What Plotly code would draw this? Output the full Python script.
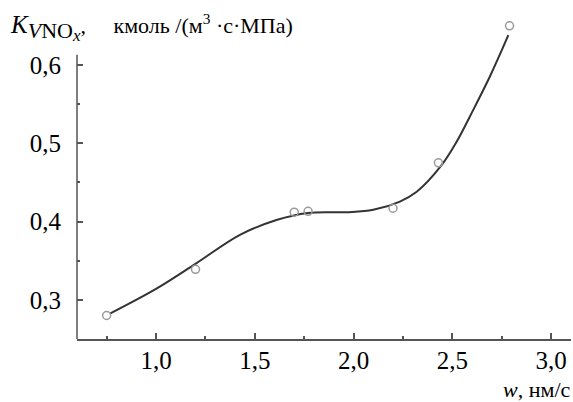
import plotly.graph_objects as go

# measured points
w_pts = [0.75, 1.2, 1.7, 1.77, 2.2, 2.43, 2.79]
k_pts = [0.28, 0.339, 0.412, 0.413, 0.417, 0.475, 0.650]

# smooth fitted curve
curve_w = [0.767, 1.0, 1.2, 1.425, 1.61, 1.77, 1.966, 2.1, 2.235, 2.32, 2.44, 2.52, 2.607, 2.69, 2.758, 2.784]
curve_k = [0.2825, 0.314, 0.346, 0.383, 0.402, 0.411, 0.412, 0.415, 0.4255, 0.438, 0.470, 0.501, 0.543, 0.585, 0.623, 0.638]

x_ticks = [1.0, 1.5, 2.0, 2.5, 3.0]
x_minor = [0.75, 1.25, 1.75, 2.25, 2.75]
y_ticks = [0.3, 0.4, 0.5, 0.6]
y_minor = [0.35, 0.45, 0.55]

FONT = "Liberation Serif"
AX = "#555555"

W, H = 573, 402
L, R, T, B = 77, 2, 18, 63
pw = W - L - R
ph = H - T - B
xr = [0.6, 0.6 + pw / 197.5]
yr = [0.25, 0.25 + ph / 783.0]

fig = go.Figure()
fig.add_trace(go.Scatter(x=curve_w, y=curve_k, mode="lines", line=dict(color="#333333", width=2, shape="spline"),
                         hoverinfo="skip", showlegend=False))
fig.add_trace(go.Scatter(x=w_pts, y=k_pts, mode="markers",
                         marker=dict(symbol="circle-open", size=8, color="#9a9a9a", line=dict(width=1.5, color="#9a9a9a")),
                         showlegend=False))

TF = dict(family=FONT, size=25, color="black")
fig.update_layout(
    width=W, height=H, margin=dict(l=L, r=R, t=T, b=B),
    paper_bgcolor="white", plot_bgcolor="white",
    separators=", ",
    font=dict(family=FONT, size=24, color="black"),
    xaxis=dict(range=xr, showgrid=False, zeroline=False, showline=True, linecolor=AX, linewidth=1.5,
               tickmode="array", tickvals=x_ticks, tickformat=".1f", ticks="inside", ticklen=6, tickwidth=1.5,
               tickcolor=AX, ticklabelstandoff=-2, tickfont=TF,
               minor=dict(tickmode="array", tickvals=x_minor, ticks="inside", ticklen=3, tickwidth=1.5, tickcolor=AX)),
    yaxis=dict(range=yr, showgrid=False, zeroline=False, showline=False,
               tickmode="array", tickvals=y_ticks, tickformat=".1f", ticks="inside", ticklen=6, tickwidth=1.5,
               tickcolor=AX, ticklabelstandoff=15, tickfont=TF,
               minor=dict(tickmode="array", tickvals=y_minor, ticks="inside", ticklen=3, tickwidth=1.5, tickcolor=AX)),
)

# y axis line ends at ~0.613
fig.add_shape(type="line", xref="paper", yref="y", x0=0, x1=0, y0=yr[0], y1=0.613,
              line=dict(color=AX, width=1.5))

def px_x(p):
    return (p - L) / pw

def px_y(p):
    return (H - B - p) / ph

title = ("<span style='font-size:25px'><i>K</i></span>"
         "<sub><span style='font-size:22px'><i>V</i>NO</span><sub><span style='font-size:17px'><i>x</i></span></sub></sub>"
         ",&nbsp;&nbsp;&nbsp;&nbsp;&nbsp;кмоль /(м<sup>3</sup> ·с·МПа)")
fig.add_annotation(xref="paper", yref="paper", x=px_x(8), y=px_y(8), xanchor="left", yanchor="top",
                   text=title, showarrow=False, font=dict(family=FONT, size=22, color="black"))
fig.add_annotation(xref="paper", yref="paper", x=px_x(572), y=px_y(389), xanchor="right", yanchor="middle",
                   text="<i>w</i>, нм/с", showarrow=False, font=dict(family=FONT, size=22, color="black"))

fig.write_html("out.html", config={"displayModeBar": False},
               post_script="document.body.style.margin='0';document.body.style.overflow='hidden';")
